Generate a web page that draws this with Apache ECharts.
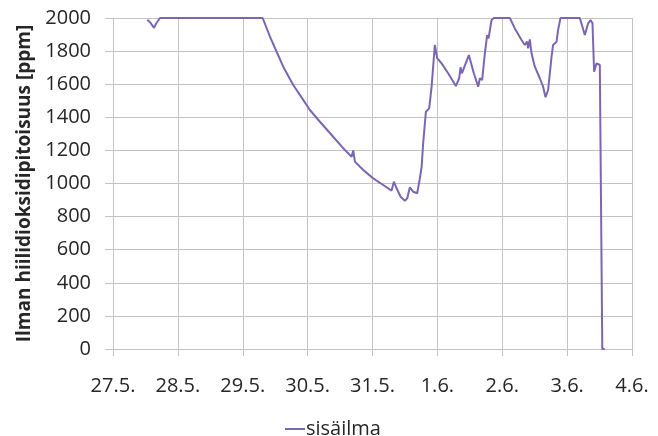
<!DOCTYPE html>
<html>
<head>
<meta charset="utf-8">
<script src="https://cdn.jsdelivr.net/npm/echarts@6/dist/echarts.min.js"></script>
<style>html,body{margin:0;padding:0;background:#fff;}#c{width:658px;height:436px;}</style>
</head>
<body>
<div id="c"></div>
<script>
// x tick labels (days, starting at 27.5.)
var tickLabels = ['27.5.', '28.5.', '29.5.', '30.5.', '31.5.', '1.6.', '2.6.', '3.6.', '4.6.'];
var seriesName = 'sisäilma';
// time in days since 27.5. 00:00
var times = [0.528, 0.570, 0.632, 0.663, 0.693, 0.724, 2.307, 2.419, 2.522, 2.624, 2.778, 2.932, 3.035, 3.190, 3.370, 3.575, 3.678, 3.703, 3.729, 3.857, 4.011, 4.165, 4.294, 4.330, 4.371, 4.433, 4.499, 4.535, 4.576, 4.627, 4.689, 4.730, 4.757, 4.781, 4.823, 4.874, 4.911, 4.961, 4.997, 5.065, 5.166, 5.285, 5.336, 5.357, 5.378, 5.408, 5.485, 5.562, 5.629, 5.655, 5.690, 5.732, 5.767, 5.789, 5.835, 5.871, 6.117, 6.194, 6.297, 6.348, 6.384, 6.399, 6.425, 6.451, 6.502, 6.579, 6.630, 6.667, 6.707, 6.760, 6.784, 6.837, 6.861, 6.898, 7.196, 7.273, 7.324, 7.361, 7.391, 7.416, 7.453, 7.504, 7.530, 7.542, 7.581];
// CO2 concentration, ppm
var co2 = [1990, 1975, 1940, 1965, 1975, 2000, 2000, 1887, 1796, 1706, 1595, 1505, 1444, 1373, 1293, 1202, 1162, 1200, 1132, 1082, 1031, 991, 957, 1011, 971, 920, 896, 910, 977, 950, 941, 1031, 1101, 1243, 1434, 1454, 1585, 1837, 1757, 1726, 1666, 1589, 1636, 1702, 1666, 1676, 1776, 1666, 1585, 1636, 1625, 1787, 1897, 1877, 1988, 2000, 2000, 1937, 1867, 1837, 1857, 1817, 1871, 1787, 1706, 1636, 1585, 1521, 1565, 1766, 1837, 1857, 1928, 2000, 2000, 1897, 1968, 1988, 1968, 1676, 1726, 1716, 1706, 0, 0];

var data = times.map(function (t, i) { return [t, co2[i]]; });
var chart = echarts.init(document.getElementById('c'));
var gridColor = '#c3c3c3';
var txt = '#262626';
chart.setOption({
  animation: false,
  grid: { left: 113, right: 26, top: 18, bottom: 87, containLabel: false },
  legend: {
    data: [seriesName], left: 280, top: 414,
    itemWidth: 20, itemHeight: 2, itemGap: 6,
    icon: 'rect',
    textStyle: { fontFamily: 'Open Sans', fontSize: 20, color: txt, padding: [0, 0, 0, -4] }
  },
  xAxis: {
    type: 'value', min: 0, max: 8, interval: 1,
    axisLine: { show: true, onZero: false, lineStyle: { color: gridColor, width: 1 } },
    axisTick: { show: true, length: 7, lineStyle: { color: gridColor } },
    splitLine: { show: true, lineStyle: { color: gridColor, width: 1 } },
    axisLabel: {
      margin: 27, fontFamily: 'Open Sans', fontSize: 20, color: txt,
      formatter: function (v) { return tickLabels[Math.round(v)]; }
    }
  },
  yAxis: {
    type: 'value', min: 0, max: 2000, interval: 200,
    name: 'Ilman hiilidioksidipitoisuus [ppm]',
    nameLocation: 'middle', nameGap: 78,
    nameTextStyle: { fontFamily: 'Open Sans', fontSize: 19, fontWeight: 'bold', color: txt },
    axisLine: { show: true, lineStyle: { color: gridColor, width: 1 } },
    axisTick: { show: true, length: 8, lineStyle: { color: gridColor } },
    splitLine: { show: true, lineStyle: { color: gridColor, width: 1 } },
    axisLabel: { margin: 22, fontFamily: 'Open Sans', fontSize: 20, color: txt,
      formatter: function (v) { return String(v); } }
  },
  series: [{
    name: seriesName, type: 'line', data: data, showSymbol: false, symbol: 'none',
    lineStyle: { color: '#7b66b3', width: 2 }, itemStyle: { color: '#7b66b3' }
  }]
});
</script>
</body>
</html>
